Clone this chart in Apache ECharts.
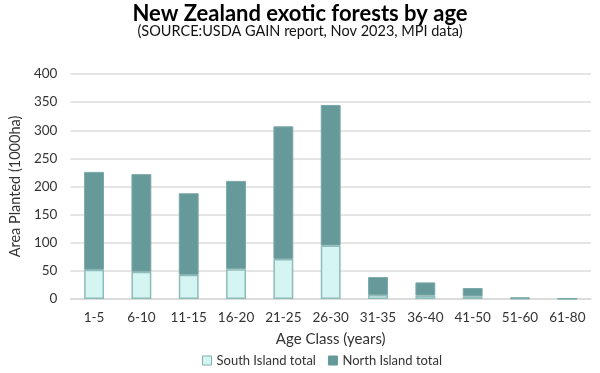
<!DOCTYPE html>
<html><head><meta charset="utf-8">
<script src="https://cdn.jsdelivr.net/npm/echarts@6/dist/echarts.min.js"></script>
<style>html,body{margin:0;padding:0;background:#fff}#c{width:600px;height:373px}</style>
</head><body><div id="c"></div>
<script>
const categories = ['1-5','6-10','11-15','16-20','21-25','26-30','31-35','36-40','41-50','51-60','61-80'];
const southIsland = [52, 48.5, 43, 53, 71, 95, 7, 6, 4.6, 0.5, 0.3];
const totals = [226, 222, 188, 210, 307, 345, 39, 29.5, 19.5, 3, 1];
const northIsland = totals.map((t, i) => +(t - southIsland[i]).toFixed(1));
const yTicks = [0, 50, 100, 150, 200, 250, 300, 350, 400];

const font = 'Lato, "Open Sans", sans-serif';
const chart = echarts.init(document.getElementById('c'));
chart.setOption({
  animation: false,
  title: [{
    text: 'New Zealand exotic forests by age',
    left: 'center', top: -2,
    textStyle: {fontFamily: font, fontSize: 22, fontWeight: 'bold', color: '#000'}
  }, {
    text: '(SOURCE:USDA GAIN report, Nov 2023, MPI data)',
    left: 'center', top: 19,
    textStyle: {fontFamily: font, fontSize: 14.5, fontWeight: 'normal', color: '#111'}
  }],
  legend: {
    top: 349, left: 197, itemWidth: 9, itemHeight: 9, itemGap: 12,
    textStyle: {fontFamily: font, fontSize: 13, color: '#333'},
    data: [
      {name: 'South Island total', icon: 'rect', itemStyle: {color: '#d5f5f3', borderColor: '#7fb1b0', borderWidth: 1}},
      {name: 'North Island total', icon: 'rect', itemStyle: {color: '#669999', borderColor: '#669999', borderWidth: 1}}
    ]
  },
  grid: {left: 60, right: 9, top: 74, bottom: 74, containLabel: false},
  xAxis: {
    type: 'category', data: categories,
    name: 'Age Class (years)', nameLocation: 'middle', nameGap: 33,
    nameTextStyle: {fontFamily: font, fontSize: 15, color: '#333'},
    axisLine: {lineStyle: {color: '#d9d9d9', width: 1.5}},
    axisTick: {show: false},
    axisLabel: {fontFamily: font, fontSize: 13.5, color: '#333', margin: 12, interval: 0}
  },
  yAxis: {
    type: 'value', min: 0, max: 400, interval: 50,
    name: 'Area Planted (1000ha)', nameLocation: 'middle', nameGap: 43,
    nameTextStyle: {fontFamily: font, fontSize: 14.5, color: '#333'},
    axisLine: {show: false}, axisTick: {show: false},
    axisLabel: {fontFamily: font, fontSize: 13.5, color: '#333', margin: 13,
      formatter: v => yTicks.includes(v) ? String(v) : ''},
    splitLine: {lineStyle: {color: '#dcdcdc', width: 1.5}}
  },
  series: [
    {name: 'South Island total', type: 'bar', stack: 'a', data: southIsland, barWidth: '42%',
     itemStyle: {color: '#d5f5f3', borderColor: '#8dbcbb', borderWidth: 1.5}},
    {name: 'North Island total', type: 'bar', stack: 'a', data: northIsland, barWidth: '42%',
     itemStyle: {color: '#669999', borderColor: '#7aa8a7', borderWidth: 1}}
  ]
});
</script></body></html>
